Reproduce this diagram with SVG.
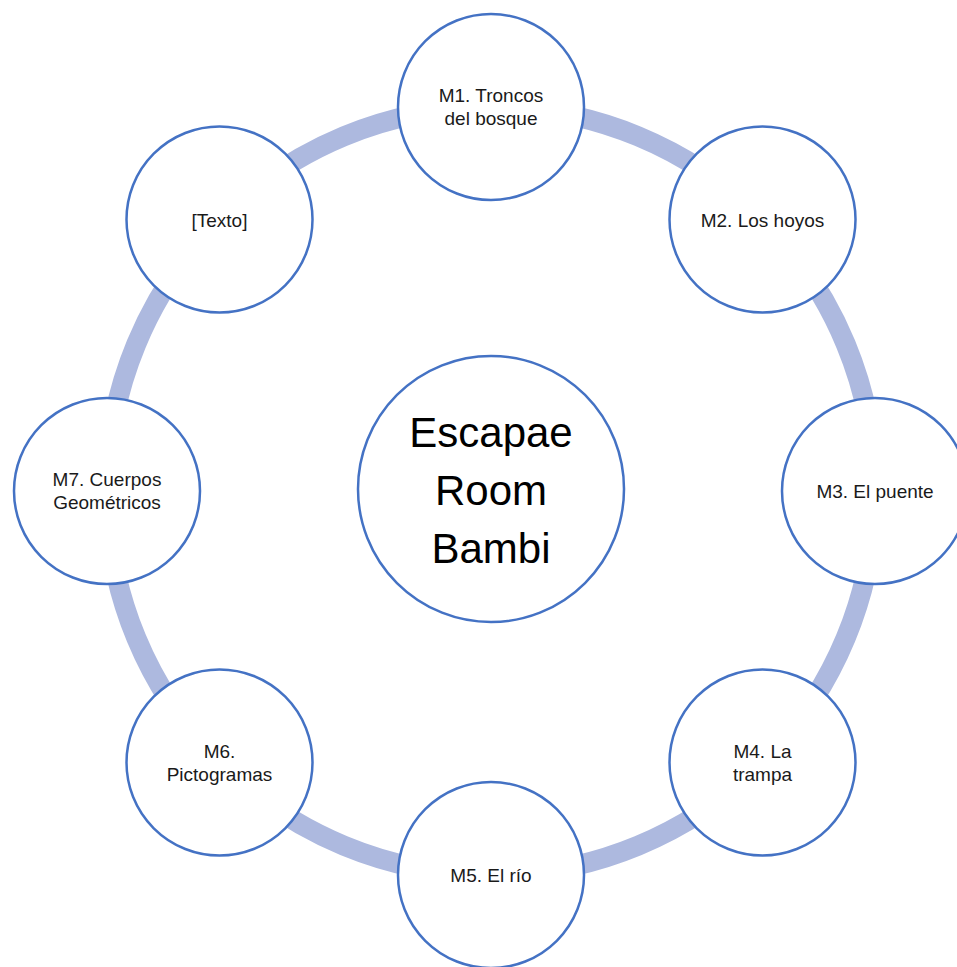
<svg xmlns="http://www.w3.org/2000/svg" width="957" height="967" viewBox="0 0 957 967">
<style>
.ring{fill:none;stroke:#adb9df;stroke-width:20}
.node{fill:#ffffff;stroke:#4472c4;stroke-width:2.5}
.lbl{font-family:"Liberation Sans",Arial,sans-serif;font-size:19px;fill:#1a1a1a;text-anchor:middle}
.big{font-family:"Liberation Sans",Arial,sans-serif;font-size:42px;fill:#000000;text-anchor:middle}
</style>
<rect width="957" height="967" fill="#ffffff"/>
<g id="connectors">
<path class="ring" d="M491,107 A384,384 0 0 1 762.5,219.5"/>
<path class="ring" d="M762.5,219.5 A384,384 0 0 1 875,491"/>
<path class="ring" d="M875,491 A384,384 0 0 1 762.5,762.5"/>
<path class="ring" d="M762.5,762.5 A384,384 0 0 1 491,875"/>
<path class="ring" d="M491,875 A384,384 0 0 1 219.5,762.5"/>
<path class="ring" d="M219.5,762.5 A384,384 0 0 1 107,491"/>
<path class="ring" d="M107,491 A384,384 0 0 1 219.5,219.5"/>
<path class="ring" d="M219.5,219.5 A384,384 0 0 1 491,107"/>
</g>
<g id="center">
<circle class="node" cx="491" cy="489" r="133"/>
<text class="big" x="491" y="447">Escapae</text>
<text class="big" x="491" y="505">Room</text>
<text class="big" x="491" y="563">Bambi</text>
</g>
<g id="m1">
<circle class="node" cx="491" cy="107" r="93"/>
<text class="lbl" x="491" y="102">M1. Troncos</text>
<text class="lbl" x="491" y="125">del bosque</text>
</g>
<g id="m2">
<circle class="node" cx="762.5" cy="219.5" r="93"/>
<text class="lbl" x="762.5" y="226.5">M2. Los hoyos</text>
</g>
<g id="m3">
<circle class="node" cx="875" cy="491" r="93"/>
<text class="lbl" x="875" y="498">M3. El puente</text>
</g>
<g id="m4">
<circle class="node" cx="762.5" cy="762.5" r="93"/>
<text class="lbl" x="762.5" y="757.5">M4. La</text>
<text class="lbl" x="762.5" y="780.5">trampa</text>
</g>
<g id="m5">
<circle class="node" cx="491" cy="875" r="93"/>
<text class="lbl" x="491" y="882">M5. El río</text>
</g>
<g id="m6">
<circle class="node" cx="219.5" cy="762.5" r="93"/>
<text class="lbl" x="219.5" y="757.5">M6.</text>
<text class="lbl" x="219.5" y="780.5">Pictogramas</text>
</g>
<g id="m7">
<circle class="node" cx="107" cy="491" r="93"/>
<text class="lbl" x="107" y="486">M7. Cuerpos</text>
<text class="lbl" x="107" y="509">Geométricos</text>
</g>
<g id="texto">
<circle class="node" cx="219.5" cy="219.5" r="93"/>
<text class="lbl" x="219.5" y="226.5">[Texto]</text>
</g>
</svg>
